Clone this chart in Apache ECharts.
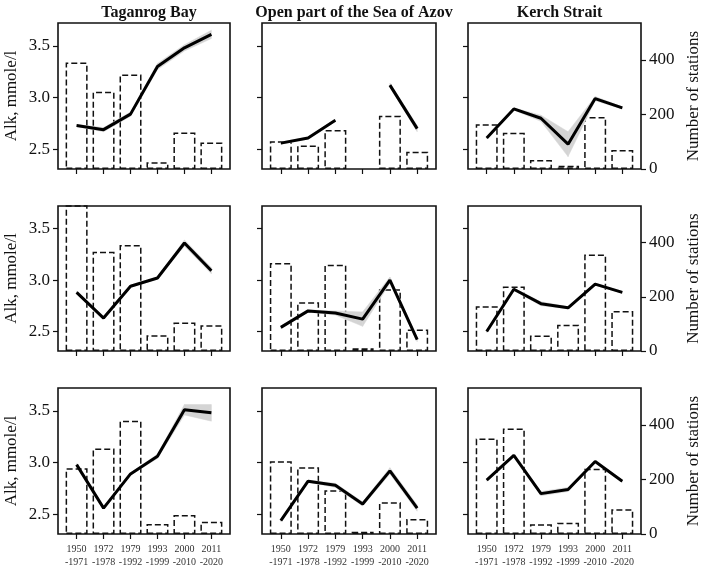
<!DOCTYPE html>
<html><head><meta charset="utf-8">
<script src="https://cdn.jsdelivr.net/npm/echarts@6/dist/echarts.min.js"></script>
<style>html,body{margin:0;padding:0;background:#fff}#c{width:706px;height:569px}</style>
</head><body><div id="c"></div>
<script>
const categories = ['1950\n-1971','1972\n-1978','1979\n-1992','1993\n-1999','2000\n-2010','2011\n-2020'];
const regions = ['Taganrog Bay','Open part of the Sea of Azov','Kerch Strait'];
const leftTicks = [2.5, 3.0, 3.5];
const rightTicks = [0, 200, 400];

// Row 1
const alkTag1   = [2.73, 2.69, 2.84, 3.30, 3.48, 3.61];
const alkOpen1  = [2.56, 2.61, 2.78, null, 3.12, 2.70];
const alkKerch1 = [2.61, 2.89, 2.80, 2.55, 2.99, 2.90];
const stTag1    = [390, 283, 346, 25, 134, 97];
const stOpen1   = [102, 86, 143, null, 195, 63];
const stKerch1  = [164, 133, 33, 12, 191, 70];
const ciTag1    = [0.01, 0.02, 0.02, 0.03, 0.03, 0.04];
const ciOpen1   = [0.01, 0.01, 0.01, null, 0.02, 0.03];
const ciKerch1  = [0.01, 0.01, 0.03, 0.12, 0.02, 0.01];
// Row 2
const alkTag2   = [2.88, 2.63, 2.94, 3.02, 3.36, 3.09];
const alkOpen2  = [2.54, 2.70, 2.68, 2.62, 3.00, 2.42];
const alkKerch2 = [2.50, 2.91, 2.77, 2.73, 2.96, 2.88];
const stTag2    = [700, 366, 391, 58, 105, 95];
const stOpen2   = [325, 180, 318, 10, 228, 79];
const stKerch2  = [165, 238, 57, 97, 356, 148];
const ciTag2    = [0.01, 0.01, 0.01, 0.01, 0.03, 0.03];
const ciOpen2   = [0.01, 0.01, 0.02, 0.07, 0.03, 0.02];
const ciKerch2  = [0.01, 0.01, 0.02, 0.01, 0.01, 0.01];
// Row 3
const alkTag3   = [2.98, 2.56, 2.89, 3.06, 3.51, 3.48];
const alkOpen3  = [2.44, 2.82, 2.78, 2.60, 2.92, 2.56];
const alkKerch3 = [2.83, 3.07, 2.70, 2.74, 3.01, 2.82];
const stTag3    = [241, 313, 415, 37, 70, 45];
const stOpen3   = [267, 245, 160, 8, 116, 55];
const stKerch3  = [350, 387, 36, 41, 239, 91];
const ciTag3    = [0.01, 0.01, 0.01, 0.02, 0.05, 0.08];
const ciOpen3   = [0.01, 0.01, 0.02, 0.02, 0.03, 0.03];
const ciKerch3  = [0.01, 0.01, 0.02, 0.02, 0.01, 0.01];

const panels = [
  [alkTag1, stTag1, ciTag1], [alkOpen1, stOpen1, ciOpen1], [alkKerch1, stKerch1, ciKerch1],
  [alkTag2, stTag2, ciTag2], [alkOpen2, stOpen2, ciOpen2], [alkKerch2, stKerch2, ciKerch2],
  [alkTag3, stTag3, ciTag3], [alkOpen3, stOpen3, ciOpen3], [alkKerch3, stKerch3, ciKerch3]
];

const FONT = '"Liberation Serif", "DejaVu Serif", serif';
const cols = [{left:58,width:172},{left:262,width:174},{left:468,width:173}];
const rows = [{top:23,height:146},{top:206,height:145},{top:388,height:146}];

const grid = [], xAxis = [], yAxis = [], series = [], title = [];
regions.forEach((r, c) => {
  title.push({text: r, left: cols[c].left + cols[c].width/2, top: 0, textAlign: 'center',
    textStyle: {fontFamily: FONT, fontWeight: 'bold', fontSize: 16, color: '#111'}});
});
panels.forEach((p, k) => {
  const row = Math.floor(k/3), col = k % 3;
  grid.push({left: cols[col].left, width: cols[col].width, top: rows[row].top, height: rows[row].height,
    show: true, borderColor: '#111', borderWidth: 1.6, backgroundColor: 'transparent'});
  xAxis.push({type: 'value', gridIndex: k, min: -0.69, max: 5.69,
    axisLine: {show: false, onZero: false}, splitLine: {show: false},
    axisTick: {show: true, customValues: [0,1,2,3,4,5], length: 5, lineStyle: {color: '#111', width: 1.2}},
    axisLabel: {show: row === 2, customValues: [0,1,2,3,4,5], formatter: v => categories[Math.round(v)],
      fontFamily: FONT, fontSize: 10, color: '#333', lineHeight: 13, margin: 9}});
  yAxis.push({type: 'value', gridIndex: k, min: 2.31, max: 3.72, position: 'left',
    axisLine: {show: false, onZero: false}, splitLine: {show: false},
    axisTick: {show: true, customValues: leftTicks, length: 5, lineStyle: {color: '#111', width: 1.2}},
    axisLabel: {show: col === 0, customValues: leftTicks, formatter: v => v.toFixed(1),
      fontFamily: FONT, fontSize: 17, color: '#111', margin: 8},
    name: col === 0 ? 'Alk, mmole/l' : '', nameLocation: 'middle', nameGap: 38, nameRotate: 90,
    nameTextStyle: {fontFamily: FONT, fontSize: 17, color: '#111'}});
  yAxis.push({type: 'value', gridIndex: k, min: 0, max: 535, position: 'right',
    axisLine: {show: false, onZero: false}, splitLine: {show: false},
    axisTick: {show: col === 2, customValues: rightTicks, length: 5, lineStyle: {color: '#111', width: 1.2}},
    axisLabel: {show: col === 2, customValues: rightTicks, fontFamily: FONT, fontSize: 17, color: '#111', margin: 8},
    name: col === 2 ? 'Number of stations' : '', nameLocation: 'middle', nameGap: 44, nameRotate: 90,
    nameTextStyle: {fontFamily: FONT, fontSize: 17, color: '#111'}});
  const [alk, st, ci] = p;
  series.push({type: 'bar', xAxisIndex: k, yAxisIndex: 2*k+1, clip: true, barWidth: 22, z: 2,
    data: st.map((v, i) => [i, v]), silent: true,
    itemStyle: {color: 'rgba(255,255,255,0)', borderColor: '#111', borderWidth: 1.5, borderType: [6, 3]}});
  // confidence band segments between consecutive valid points
  const seg = [];
  for (let i = 0; i < alk.length - 1; i++) {
    if (alk[i] == null || alk[i+1] == null) continue;
    seg.push([i, alk[i] - ci[i], alk[i] + ci[i], i + 1, alk[i+1] - ci[i+1], alk[i+1] + ci[i+1]]);
  }
  series.push({type: 'custom', xAxisIndex: k, yAxisIndex: 2*k, z: 3, silent: true, clip: true,
    data: seg, encode: {x: [0, 3], y: [1, 2, 4, 5]},
    renderItem: (params, api) => {
      const a = api.coord([api.value(0), api.value(1)]);
      const b = api.coord([api.value(0), api.value(2)]);
      const c = api.coord([api.value(3), api.value(5)]);
      const d = api.coord([api.value(3), api.value(4)]);
      return {type: 'polygon', shape: {points: [a, b, c, d]},
        style: {fill: '#d4d4d4', stroke: '#d4d4d4', lineWidth: 0.5}};
    }});
  series.push({type: 'line', xAxisIndex: k, yAxisIndex: 2*k, symbol: 'none', z: 4, silent: true,
    data: alk.map((v, i) => [i, v]), lineStyle: {color: '#000', width: 3}});
});

const chart = echarts.init(document.getElementById('c'), null, {renderer: 'canvas'});
chart.setOption({animation: false, backgroundColor: '#fff', title, grid, xAxis, yAxis, series});
</script>
</body></html>
